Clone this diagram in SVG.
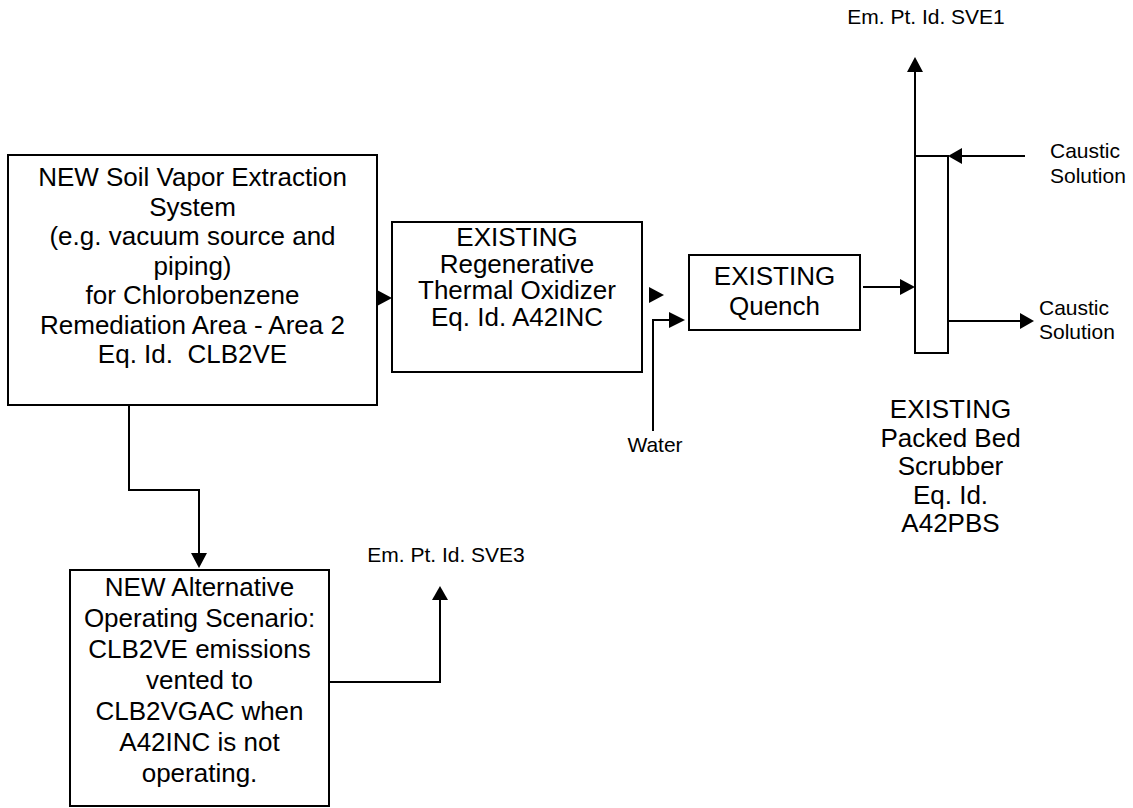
<svg xmlns="http://www.w3.org/2000/svg" width="1133" height="808" viewBox="0 0 1133 808">
<style>
.box{fill:#fff;stroke:#000;stroke-width:2}
.ln{fill:none;stroke:#000;stroke-width:2}
.ah{fill:#000;stroke:none}
.t{font-family:"Liberation Sans",Arial,sans-serif;font-size:26px;fill:#000;text-anchor:middle;white-space:pre}
.s{font-family:"Liberation Sans",Arial,sans-serif;font-size:21px;fill:#000}
.m{text-anchor:middle}
</style>
<rect width="1133" height="808" fill="#fff"/>
<g id="connectors">
<polygon class="ah" points="377,290 392,298 377,306"/>
<polygon class="ah" points="649,287 664,295 649,303"/>
<path class="ln" d="M653,431 V320 H672"/>
<polygon class="ah" points="669,312 685,320 669,328"/>
<path class="ln" d="M863,287 H902"/>
<polygon class="ah" points="900,279 915,287 900,295"/>
<path class="ln" d="M915,156 V70"/>
<polygon class="ah" points="907,72 915,57 923,72"/>
<path class="ln" d="M1025,156 H960"/>
<polygon class="ah" points="962,148 948,156 962,164"/>
<path class="ln" d="M948,321 H1022"/>
<polygon class="ah" points="1020,313 1034,321 1020,329"/>
<path class="ln" d="M129,405 V490 H199 V555"/>
<polygon class="ah" points="191,553 199,568 207,553"/>
<path class="ln" d="M329,682 H440 V598"/>
<polygon class="ah" points="432,600 440,586 448,600"/>
</g>
<g id="sve">
<rect class="box" x="8" y="155" width="369" height="250"/>
<text class="t" x="192.5" y="186">NEW Soil Vapor Extraction</text>
<text class="t" x="192.5" y="215.5">System</text>
<text class="t" x="192.5" y="245">(e.g. vacuum source and</text>
<text class="t" x="192.5" y="274.5">piping)</text>
<text class="t" x="192.5" y="304">for Chlorobenzene</text>
<text class="t" x="192.5" y="333.5">Remediation Area - Area 2</text>
<text class="t" x="192.5" y="363">Eq. Id.  CLB2VE</text>
</g>
<g id="rto">
<rect class="box" x="392" y="222" width="250" height="150"/>
<text class="t" x="517" y="246">EXISTING</text>
<text class="t" x="517" y="272.6">Regenerative</text>
<text class="t" x="517" y="299.2">Thermal Oxidizer</text>
<text class="t" x="517" y="325.8">Eq. Id. A42INC</text>
</g>
<g id="quench">
<rect class="box" x="689" y="255" width="171" height="75"/>
<text class="t" x="774.5" y="285">EXISTING</text>
<text class="t" x="774.5" y="315">Quench</text>
</g>
<g id="scrubber">
<rect class="box" x="915" y="156" width="33" height="197"/>
<text class="t" x="950.5" y="418">EXISTING</text>
<text class="t" x="950.5" y="446.5">Packed Bed</text>
<text class="t" x="950.5" y="475">Scrubber</text>
<text class="t" x="950.5" y="503.5">Eq. Id.</text>
<text class="t" x="950.5" y="532">A42PBS</text>
</g>
<g id="alt">
<rect class="box" x="70" y="570" width="259" height="236"/>
<text class="t" x="199.5" y="596">NEW Alternative</text>
<text class="t" x="199.5" y="627">Operating Scenario:</text>
<text class="t" x="199.5" y="658">CLB2VE emissions</text>
<text class="t" x="199.5" y="689">vented to</text>
<text class="t" x="199.5" y="720">CLB2VGAC when</text>
<text class="t" x="199.5" y="751">A42INC is not</text>
<text class="t" x="199.5" y="782">operating.</text>
</g>
<g id="labels">
<text class="s m" x="926" y="24">Em. Pt. Id. SVE1</text>
<text class="s m" x="446" y="562">Em. Pt. Id. SVE3</text>
<text class="s" x="1050" y="158">Caustic</text>
<text class="s" x="1050" y="183">Solution</text>
<text class="s" x="1039" y="315">Caustic</text>
<text class="s" x="1039" y="339">Solution</text>
<text class="s m" x="655" y="452">Water</text>
</g>
</svg>
